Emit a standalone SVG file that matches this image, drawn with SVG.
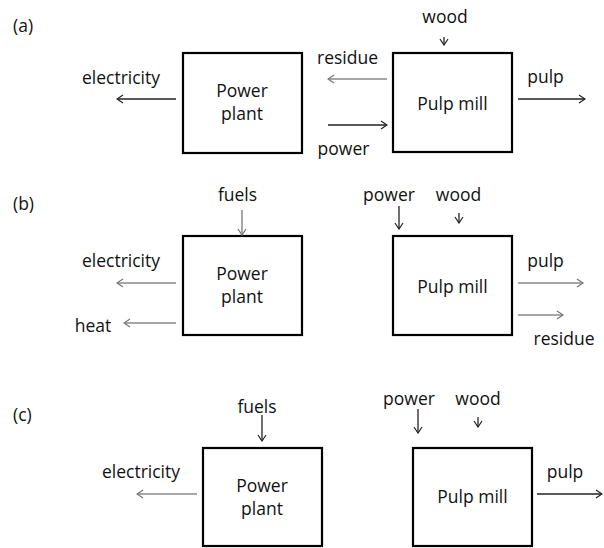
<svg xmlns="http://www.w3.org/2000/svg" width="604" height="548" viewBox="0 0 604 548">
  <style>
    text { font-family: "Open Sans", "Liberation Sans", sans-serif; font-size: 17.5px; fill: #111; text-anchor: middle; }
    .lbl { text-anchor: start; }
    .box { fill: #fff; stroke: #000; stroke-width: 2.2; }
    .dark { stroke: #222; stroke-width: 1.3; fill: none; marker-end: url(#headDark); }
    .gray { stroke: #888; stroke-width: 1.5; fill: none; marker-end: url(#headGray); }
  </style>
  <defs>
    <marker id="headDark" markerUnits="userSpaceOnUse" viewBox="-1 -5 8 10" markerWidth="8" markerHeight="10" refX="6" refY="0" orient="auto">
      <path d="M0,-4 L6,0 L0,4" fill="none" stroke="#222" stroke-width="1.2"/>
    </marker>
    <marker id="headGray" markerUnits="userSpaceOnUse" viewBox="-1 -5 8 10" markerWidth="8" markerHeight="10" refX="6" refY="0" orient="auto">
      <path d="M0,-4 L6,0 L0,4" fill="none" stroke="#777" stroke-width="1.3"/>
    </marker>
  </defs>
  <rect width="604" height="548" fill="#fff"/>

  <!-- panel labels -->
  <text class="lbl" x="13" y="32">(a)</text>
  <text class="lbl" x="13" y="210">(b)</text>
  <text class="lbl" x="13" y="421">(c)</text>

  <!-- (a) -->
  <g id="a-power-plant">
    <rect class="box" x="183" y="53" width="119" height="100"/>
    <text x="242" y="97">Power</text>
    <text x="242" y="120">plant</text>
  </g>
  <g id="a-pulp-mill">
    <rect class="box" x="393" y="53" width="119" height="99"/>
    <text x="452.5" y="110">Pulp mill</text>
  </g>

  <!-- (b) -->
  <g id="b-power-plant">
    <rect class="box" x="183" y="236" width="119" height="99"/>
    <text x="242" y="280">Power</text>
    <text x="242" y="303">plant</text>
  </g>
  <g id="b-pulp-mill">
    <rect class="box" x="393" y="236" width="119" height="99"/>
    <text x="452.5" y="293">Pulp mill</text>
  </g>

  <!-- (c) -->
  <g id="c-power-plant">
    <rect class="box" x="203" y="448" width="119" height="98"/>
    <text x="262" y="492">Power</text>
    <text x="262" y="515">plant</text>
  </g>
  <g id="c-pulp-mill">
    <rect class="box" x="413" y="448" width="119" height="98"/>
    <text x="472.5" y="503">Pulp mill</text>
  </g>

  <!-- flows -->
  <g id="connectors">
    <!-- (a) -->
    <line class="dark" x1="176" y1="99" x2="117" y2="99"/>
    <line class="dark" x1="444" y1="37" x2="444" y2="45"/>
    <line class="gray" x1="387" y1="79" x2="328" y2="79"/>
    <line class="dark" x1="328" y1="125" x2="387" y2="125"/>
    <line class="dark" x1="518" y1="99" x2="585" y2="99"/>
    <!-- (b) -->
    <line class="gray" x1="242" y1="210" x2="242" y2="235"/>
    <line class="gray" x1="176" y1="283" x2="117" y2="283"/>
    <line class="gray" x1="176" y1="323" x2="124" y2="323"/>
    <line class="dark" x1="399" y1="206" x2="399" y2="229"/>
    <line class="dark" x1="459" y1="213" x2="459" y2="223"/>
    <line class="gray" x1="518" y1="283" x2="583" y2="283"/>
    <line class="gray" x1="518" y1="315" x2="563" y2="315"/>
    <!-- (c) -->
    <line class="dark" x1="262" y1="415" x2="262" y2="441"/>
    <line class="gray" x1="197" y1="494" x2="137" y2="494"/>
    <line class="dark" x1="418" y1="409" x2="418" y2="433"/>
    <line class="dark" x1="478" y1="417" x2="478" y2="427"/>
    <line class="dark" x1="537" y1="494" x2="602" y2="494"/>
  </g>

  <!-- flow labels -->
  <g id="flow-labels">
    <text x="121" y="84">electricity</text>
    <text x="445" y="23">wood</text>
    <text x="347.5" y="64">residue</text>
    <text x="343.5" y="155">power</text>
    <text x="545.5" y="83">pulp</text>

    <text x="237.5" y="201">fuels</text>
    <text x="121" y="267">electricity</text>
    <text x="93" y="332">heat</text>
    <text x="389" y="201">power</text>
    <text x="458.5" y="201">wood</text>
    <text x="545.5" y="267">pulp</text>
    <text x="564" y="345">residue</text>

    <text x="257" y="413">fuels</text>
    <text x="141" y="478">electricity</text>
    <text x="409" y="405">power</text>
    <text x="478" y="405">wood</text>
    <text x="565" y="478">pulp</text>
  </g>
</svg>
